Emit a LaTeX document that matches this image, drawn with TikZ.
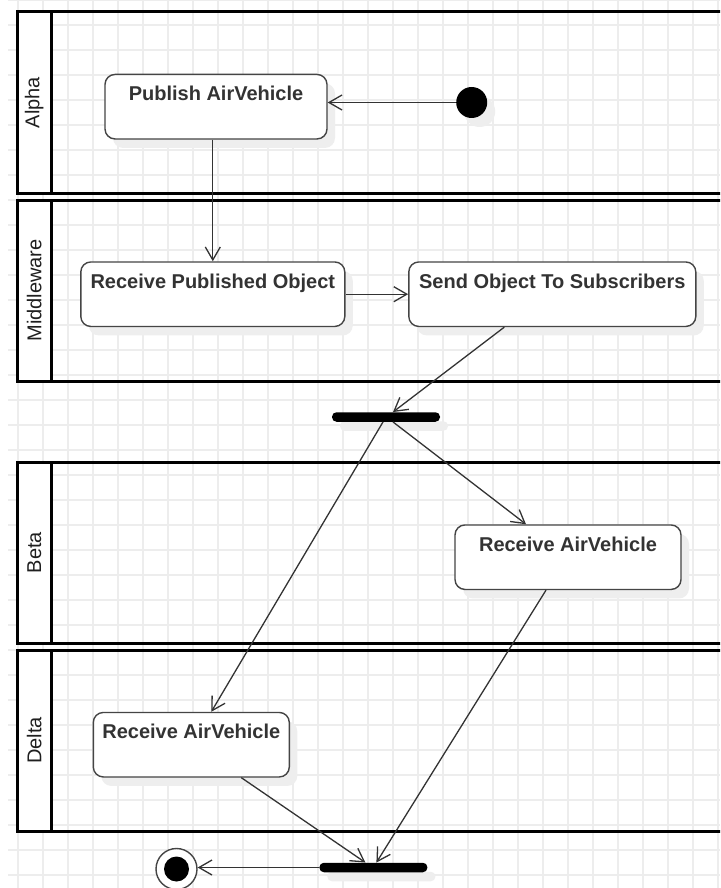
\documentclass[tikz,border=0pt]{standalone}
\usepackage{fontspec}
\setmainfont{Liberation Sans}
\usetikzlibrary{arrows.meta,shadows}

\definecolor{gridgray}{HTML}{EDEDED}
\definecolor{inkgray}{HTML}{333333}
\definecolor{edgegray}{HTML}{454545}
\definecolor{shadowgray}{HTML}{EEEEEE}

\begin{document}
\begin{tikzpicture}[x=1pt,y=-1pt,
  softshadow/.style={drop shadow={shadow xshift=8pt, shadow yshift=-9pt, fill=shadowgray, opacity=1}},
  actbox/.style={draw=edgegray, line width=1.4pt, fill=white, rounded corners=10pt,
    inner sep=0pt, text height=26.5pt, text depth=38pt,
    font=\bfseries\fontsize{20}{24}\selectfont, text=inkgray, softshadow},
  lanerule/.style={draw=black, line width=3pt},
  lanehead/.style={draw=black, line width=3pt, fill=white},
  lanelabel/.style={rotate=90, inner sep=0pt, font=\fontsize{20}{24}\selectfont, text=black!88},
  flow/.style={draw=inkgray, line width=1.3pt,
    -{Straight Barb[length=13pt,width=15pt,line width=1.3pt]}},
  syncbar/.style={fill=black, rounded corners=4.5pt, minimum width=108pt,
    minimum height=9.5pt, inner sep=0pt, softshadow},
  startdot/.style={circle, fill=black, minimum size=31pt, inner sep=0pt, softshadow},
  enddot/.style={circle, draw=edgegray, line width=1.4pt, fill=white, minimum size=41pt,
    inner sep=0pt,
    path picture={\fill[black] (path picture bounding box.center) circle (12.5pt);}},
]

% canvas
\useasboundingbox (0,0) rectangle (720,888);
\clip (0,0) rectangle (720,888);
\fill[white] (0,0) rectangle (720,888);

% background grid
\foreach \gx in {0,...,28}
  \draw[gridgray, line width=1.8pt] ({18.3+25*\gx},0) -- ({18.3+25*\gx},888);
\foreach \gy in {0,...,35}
  \draw[gridgray, line width=1.8pt] (8,{25*\gy}) -- (720,{25*\gy});

% swimlanes
\foreach \top/\name/\lab in {12/alphalane/Alpha, 200/mwlane/Middleware, 462/betalane/Beta, 650/deltalane/Delta}{
  \draw[lanerule] (17.5,\top) rectangle (745,{\top+181});
  \draw[lanehead] (17.5,\top) rectangle (51,{\top+181});
  \node[lanelabel] (\name) at (34.3,{\top+90.5}) {\lab};
}

% activities
\node[actbox, minimum width=222pt] (pub) at (216,106.7) {Publish AirVehicle};
\node[actbox, minimum width=264pt] (rpo) at (212.8,294.2) {Receive Published Object};
\node[actbox, minimum width=287pt] (soc) at (552.3,294.2) {Send Object To Subscribers};
\node[actbox, minimum width=226pt] (beta) at (568,557.2) {Receive AirVehicle};
\node[actbox, minimum width=196pt] (delta) at (191.3,744.7) {Receive AirVehicle};

% control nodes
\node[startdot] (init) at (471.7,102.5) {};
\node[syncbar] (fork1) at (386,417) {};
\node[syncbar] (fork2) at (373.4,867.5) {};
\node[enddot] (final) at (176.5,869) {};

% control flow
\draw[flow] (init) -- (init -| pub.east);
\draw[flow] (pub.south -| rpo.north) -- (rpo.north);
\draw[flow] (rpo.east) -- (soc.west);
\draw[flow] ([xshift=-48pt]soc.south) -- ([xshift=7pt]fork1.north);
\draw[flow] ([xshift=7pt]fork1.south) -- ([xshift=-42pt]beta.north);
\draw[flow] ([xshift=-3pt]fork1.south) -- ([xshift=20pt]delta.north);
\draw[flow] ([xshift=-22pt]beta.south) -- ([xshift=3pt]fork2.north);
\draw[flow] ([xshift=50pt]delta.south) -- ([xshift=-8pt]fork2.north);
\draw[flow] (fork2.west) -- (fork2.west -| final.east);

\end{tikzpicture}
\end{document}
